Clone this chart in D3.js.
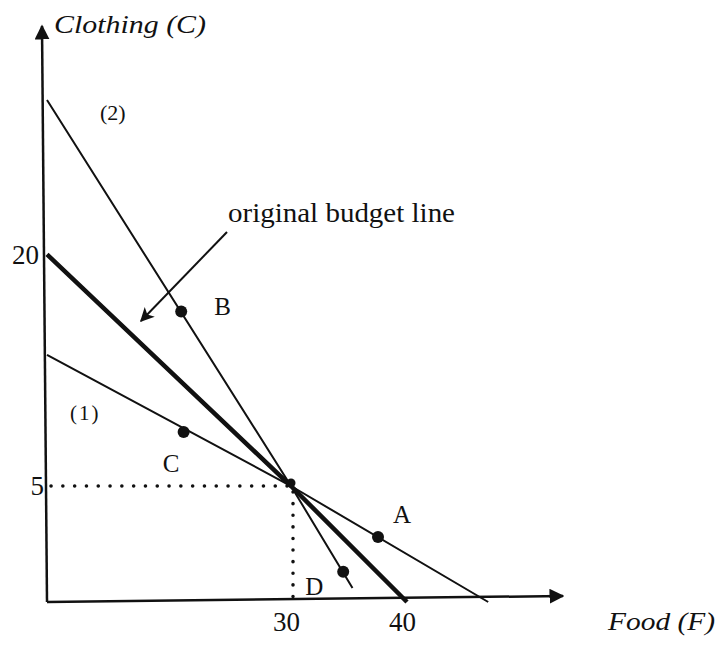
<!DOCTYPE html>
<html>
<head>
<meta charset="utf-8">
<script src="https://cdn.jsdelivr.net/npm/d3@7"></script>
<style>
  html, body { margin: 0; padding: 0; background: #fff; }
  svg { display: block; }
  text { font-family: "Liberation Serif", "Times New Roman", serif; fill: #111; }
</style>
</head>
<body>
<svg id="chart" width="720" height="646"></svg>
<script>
// ---- data ----
const foodTicks = [30, 40];
const clothingTicks = [5, 20];
const originalLine = [{F: 0, C: 20}, {F: 30, C: 5}, {F: 40, C: 0}];
const line1 = [{F: 0, C: 13.5}, {F: 30, C: 5}, {F: 47, C: 0}];
const line2 = [{F: 0, C: 30}, {F: 30, C: 5}, {F: 35.3, C: 0.6}];
const bundleNames = ["A", "B", "C", "D"];
const bundleF = [37.5, 16.5, 16.8, 34.5];
const bundleC = [2.8, 16.3, 8.5, 1.3];
const kink = {F: 30, C: 5};

// ---- scales (diagram is not drawn to scale) ----
const x = d3.scaleLinear().domain([0, 30, 60]).range([47, 291, 639]);
const y = d3.scaleLinear().domain([0, 5, 30]).range([602, 486, 100]);

const svg = d3.select("#chart");
svg.append("rect").attr("width", 720).attr("height", 646).attr("fill", "#fff");

const defs = svg.append("defs");
defs.append("marker").attr("id", "axhead").attr("viewBox", "0 0 10 10")
  .attr("refX", 9).attr("refY", 5).attr("markerWidth", 6).attr("markerHeight", 6)
  .attr("markerUnits", "strokeWidth").attr("orient", "auto")
  .append("path").attr("d", "M0,0 L10,5 L0,10 Z").attr("fill", "#111");
defs.append("marker").attr("id", "arhead").attr("viewBox", "0 0 10 10")
  .attr("refX", 9).attr("refY", 5).attr("markerWidth", 8).attr("markerHeight", 7)
  .attr("markerUnits", "strokeWidth").attr("orient", "auto")
  .append("path").attr("d", "M0,0 L10,5 L0,10 L2.5,5 Z").attr("fill", "#111");

// ---- axes lines ----
svg.append("line")
  .attr("x1", x(0)).attr("y1", y(0)).attr("x2", x(0) - 5).attr("y2", 26)
  .attr("stroke", "#111").attr("stroke-width", 2.5).attr("marker-end", "url(#axhead)");
svg.append("line")
  .attr("x1", x(0)).attr("y1", y(0)).attr("x2", 563).attr("y2", y(0) - 6)
  .attr("stroke", "#111").attr("stroke-width", 2.5).attr("marker-end", "url(#axhead)");

// ---- tick labels via d3 axes ----
const xAxis = svg.append("g").attr("transform", `translate(0,${y(0)})`)
  .call(d3.axisBottom(x).tickValues(foodTicks).tickSize(0).tickPadding(10));
xAxis.select(".domain").remove();
xAxis.selectAll("text").attr("font-size", 27).attr("font-family", "Liberation Serif")
  .attr("dx", -5).attr("fill", "#111");

const yAxis = svg.append("g").attr("transform", `translate(${x(0)},0)`)
  .call(d3.axisLeft(y).tickValues(clothingTicks).tickSize(0).tickPadding(6));
yAxis.select(".domain").remove();
yAxis.selectAll("text").attr("font-size", 27).attr("font-family", "Liberation Serif")
  .attr("fill", "#111")
  .attr("dx", d => d === 5 ? 3 : -2);

// ---- dotted guides ----
svg.append("line")
  .attr("x1", x(0) + 4).attr("y1", y(kink.C)).attr("x2", x(kink.F)).attr("y2", y(kink.C))
  .attr("stroke", "#111").attr("stroke-width", 3.5).attr("stroke-linecap", "round")
  .attr("stroke-dasharray", "0.1,11.7");
svg.append("line")
  .attr("x1", x(kink.F) + 2).attr("y1", y(kink.C) + 6).attr("x2", x(kink.F) + 2).attr("y2", y(0))
  .attr("stroke", "#111").attr("stroke-width", 3.5).attr("stroke-linecap", "round")
  .attr("stroke-dasharray", "0.1,11.5");

// ---- budget lines ----
const lineGen = d3.line().x(d => x(d.F)).y(d => y(d.C));
svg.append("path").datum(line2).attr("d", lineGen)
  .attr("fill", "none").attr("stroke", "#111").attr("stroke-width", 2);
svg.append("path").datum(line1).attr("d", lineGen)
  .attr("fill", "none").attr("stroke", "#111").attr("stroke-width", 2);
svg.append("path").datum(originalLine).attr("d", lineGen)
  .attr("fill", "none").attr("stroke", "#111").attr("stroke-width", 4.5);

// intersection point
svg.append("circle").attr("cx", x(kink.F)).attr("cy", y(kink.C) - 3).attr("r", 4.5).attr("fill", "#111");

// ---- bundles ----
const bundles = bundleNames.map((n, i) => ({name: n, F: bundleF[i], C: bundleC[i]}));
svg.selectAll("circle.pt").data(bundles).enter().append("circle")
  .attr("class", "pt").attr("cx", d => x(d.F)).attr("cy", d => y(d.C)).attr("r", 6)
  .attr("fill", "#111");
const labelOffset = {A: [15, -14], B: [33, 3], C: [-21, 40], D: [-38, 23]};
svg.selectAll("text.pl").data(bundles).enter().append("text")
  .attr("class", "pl")
  .attr("x", d => x(d.F) + labelOffset[d.name][0])
  .attr("y", d => y(d.C) + labelOffset[d.name][1])
  .attr("font-size", 25)
  .text(d => d.name);

// ---- line labels ----
svg.append("text").attr("x", 100).attr("y", 120).attr("font-size", 22).text("(2)");
svg.append("text").attr("x", 70).attr("y", 420).attr("font-size", 21)
  .attr("letter-spacing", 2).text("(1)");

// ---- annotation ----
svg.append("text").attr("x", 228).attr("y", 222).attr("font-size", 28)
  .attr("textLength", 227).attr("lengthAdjust", "spacingAndGlyphs")
  .text("original budget line");
svg.append("line").attr("x1", 227).attr("y1", 232).attr("x2", 141).attr("y2", 321)
  .attr("stroke", "#111").attr("stroke-width", 2).attr("marker-end", "url(#arhead)");

// ---- axis titles ----
svg.append("text").attr("x", 54).attr("y", 33).attr("font-size", 26)
  .attr("font-style", "italic").attr("textLength", 152).attr("lengthAdjust", "spacingAndGlyphs")
  .text("Clothing (C)");
svg.append("text").attr("x", 608).attr("y", 630).attr("font-size", 25)
  .attr("font-style", "italic").attr("textLength", 107).attr("lengthAdjust", "spacingAndGlyphs")
  .text("Food (F)");
</script>
</body>
</html>
